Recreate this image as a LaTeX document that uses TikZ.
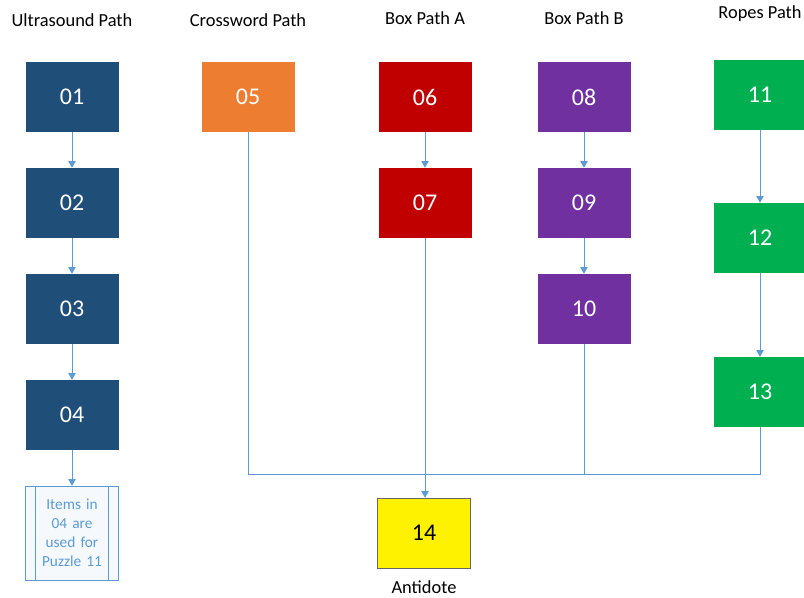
\documentclass[tikz,border=0pt]{standalone}
\usepackage{fontspec}
\setmainfont{Carlito}
\usepackage{xcolor}
\usetikzlibrary{positioning, arrows.meta, calc}

\definecolor{pathblue}{HTML}{1F4E79}
\definecolor{pathorange}{HTML}{ED7D31}
\definecolor{pathred}{HTML}{C00000}
\definecolor{pathpurple}{HTML}{7030A0}
\definecolor{pathgreen}{HTML}{00B050}
\definecolor{linkblue}{HTML}{5B9BD5}

\begin{document}
\begin{tikzpicture}[
        x=0.75pt, y=-0.75pt,
        puzzlebox/.style={rectangle, minimum width=69.75pt, minimum height=52.5pt, align=center, text=white, font=\fontsize{18}{20}\selectfont, inner sep=0pt},
        antidotebox/.style={puzzlebox, fill=yellow, draw=black!60, text=black},
        notebox/.style={rectangle, minimum width=69.75pt, minimum height=70.5pt, align=center, draw=linkblue, fill=linkblue!6, text=linkblue, font=\fontsize{11.5}{14.25}\selectfont, inner sep=0pt, text width=52pt},
        pathtitle/.style={font=\fontsize{13.8}{15}\selectfont, text=black},
        arrow/.style={-{Triangle[width=5.5pt, length=5pt]}, draw=linkblue, line width=0.7pt},
        link/.style={draw=linkblue, line width=0.7pt}
    ]

    \clip (0, 0) rectangle (804, 597);

    % ============ TITLES ============
    \node[pathtitle] (tultra) at (72, 20) {Ultrasound Path};
    \node[pathtitle] (tcross) at (248, 20) {Crossword Path};
    \node[pathtitle] (tboxa) at (425, 18) {Box Path A};
    \node[pathtitle] (tboxb) at (584, 18) {Box Path B};
    \node[pathtitle] (tropes) at (760, 14) {Ropes Path};

    % ============ ULTRASOUND PATH ============
    \node[puzzlebox, fill=pathblue] (u01) at (72, 97) {01};
    \node[puzzlebox, fill=pathblue] (u02) at (72, 203) {02};
    \node[puzzlebox, fill=pathblue] (u03) at (72, 309) {03};
    \node[puzzlebox, fill=pathblue] (u04) at (72, 415) {04};
    \node[notebox] (note) at (72, 533) {Items in 04 are used for Puzzle 11};
    \draw[linkblue, line width=0.7pt] ([xshift=7.5pt]note.north west) -- ([xshift=7.5pt]note.south west);
    \draw[linkblue, line width=0.7pt] ([xshift=-7.5pt]note.north east) -- ([xshift=-7.5pt]note.south east);

    % ============ CROSSWORD PATH ============
    \node[puzzlebox, fill=pathorange] (c05) at (248, 97) {05};

    % ============ BOX PATHS ============
    \node[puzzlebox, fill=pathred] (a06) at (425, 97) {06};
    \node[puzzlebox, fill=pathred] (a07) at (425, 203) {07};

    \node[puzzlebox, fill=pathpurple] (b08) at (584, 97) {08};
    \node[puzzlebox, fill=pathpurple] (b09) at (584, 203) {09};
    \node[puzzlebox, fill=pathpurple] (b10) at (584, 309) {10};

    % ============ ROPES PATH ============
    \node[puzzlebox, fill=pathgreen] (r11) at (760, 95) {11};
    \node[puzzlebox, fill=pathgreen] (r12) at (760, 238) {12};
    \node[puzzlebox, fill=pathgreen] (r13) at (760, 392) {13};

    % ============ ANTIDOTE ============
    \node[antidotebox] (n14) at (424, 533) {14};
    \node[pathtitle] (antidote) at (424, 587) {Antidote};
    \coordinate (merge) at (425, 474);

    % ============ ARROWS ============
    \draw[arrow] (u01) -- (u02);
    \draw[arrow] (u02) -- (u03);
    \draw[arrow] (u03) -- (u04);
    \draw[arrow] (u04) -- (note);

    \draw[arrow] (a06) -- (a07);
    \draw[arrow] (b08) -- (b09);
    \draw[arrow] (b09) -- (b10);
    \draw[arrow] (r11) -- (r12);
    \draw[arrow] (r12) -- (r13);

    \draw[link] (c05) |- (merge);
    \draw[link] (b10) |- (merge);
    \draw[link] (r13) |- (merge);
    \draw[arrow] (a07) -- (a07 |- n14.north);

\end{tikzpicture}
\end{document}
